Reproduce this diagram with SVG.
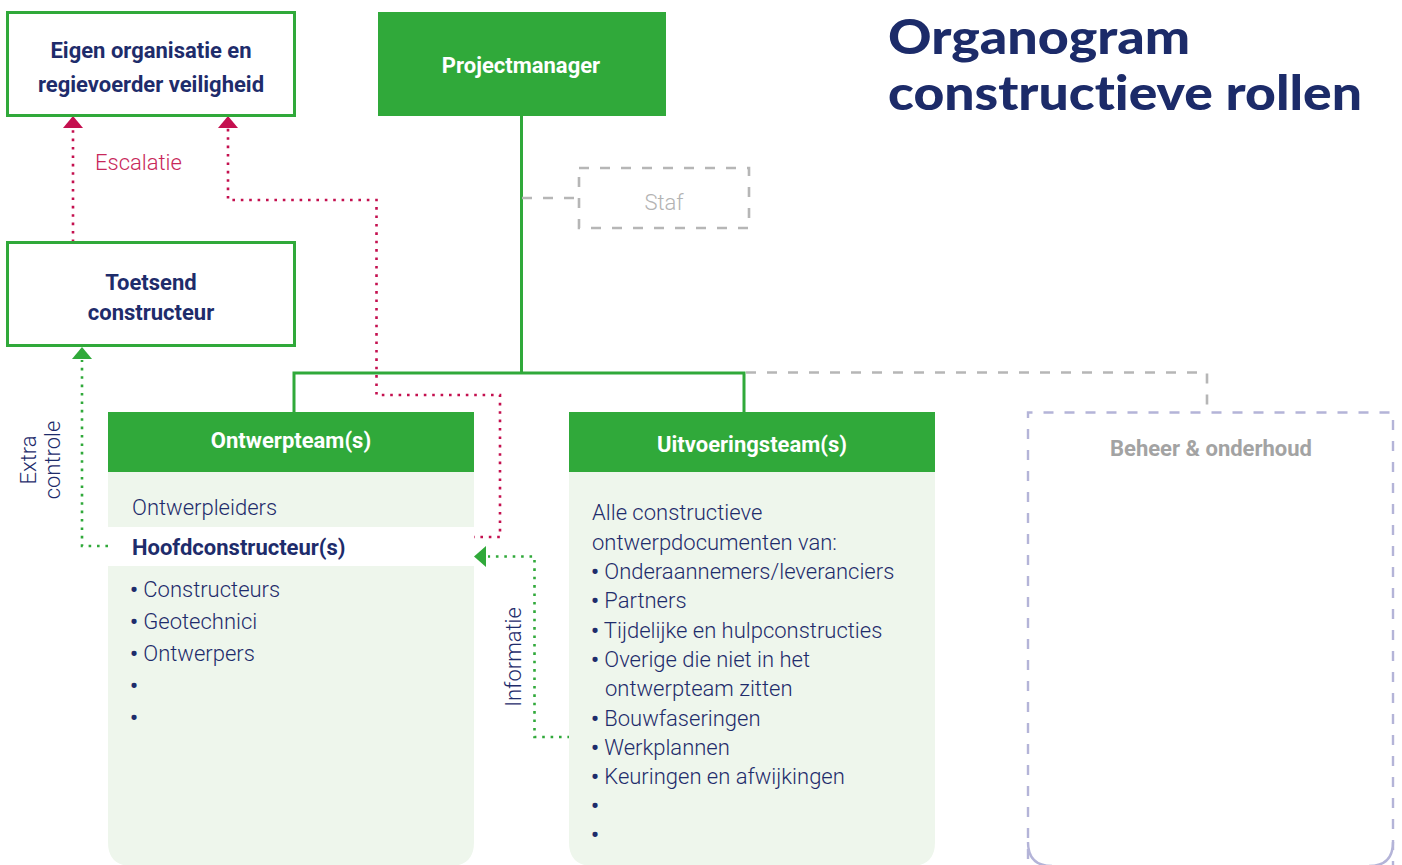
<svg xmlns="http://www.w3.org/2000/svg" width="1402" height="865" viewBox="0 0 1402 865">
<defs>
<style>
.t{font-family:Roboto,"Liberation Sans",sans-serif;fill:#1e2c6b}
.lt{font-weight:300;font-size:22px}
.bd{font-weight:700;font-size:22px}
.b{font-weight:700}
.wh{fill:#ffffff}
.ttl{font-family:Lato,"Open Sans",sans-serif;font-weight:900;font-size:48px;fill:#1c2b69;font-variant-ligatures:none}
.grn{fill:#30a93a}
.body{fill:#eef6ec}
.box{fill:#ffffff;stroke:#30a93a;stroke-width:3}
.conn{fill:none;stroke:#30a93a;stroke-width:3}
.red{fill:none;stroke:#c4104f;stroke-width:2.6;stroke-dasharray:2.6 5.8}
.gdot{fill:none;stroke:#30a93a;stroke-width:2.6;stroke-dasharray:2.6 5.8}
.gdash{fill:none;stroke:#b6b6b6;stroke-width:2.6;stroke-dasharray:10 11}
.ldash{fill:none;stroke:#b4b4d8;stroke-width:2.4;stroke-dasharray:10 11}
</style>
</defs>

<g id="title">
<text class="ttl" x="888" y="54" textLength="302" lengthAdjust="spacingAndGlyphs">Organogram</text>
<text class="ttl" x="888" y="110" textLength="474" lengthAdjust="spacingAndGlyphs">constructieve rollen</text>
</g>

<g id="connectors">
<path class="conn" d="M521.5,116 V373 M294,412 V373 H744 V412"/>
<path class="gdash" d="M522,198 H579"/>
<path class="gdash" d="M746,372.5 H1207 V412"/>
<path class="red" d="M73,242 V128"/>
<path class="red" d="M472,537 H500 V395 H376.5 V200 H228 V128"/>
<polygon points="73,116 63,128 83,128" fill="#c4104f"/>
<polygon points="228,116 218,128 238,128" fill="#c4104f"/>
<path class="gdot" d="M108,546 H82 V360"/>
<polygon points="82,347 72,359 92,359" fill="#30a93a"/>
<path class="gdot" d="M570,737 H534.5 V556.5 H488"/>
<polygon points="474,556.5 486,546 486,567" fill="#30a93a"/>
<text class="t lt" x="95" y="170" style="fill:#c8285a">Escalatie</text>
<text class="t lt" transform="translate(36,460) rotate(-90)" text-anchor="middle">Extra</text>
<text class="t lt" transform="translate(60,460) rotate(-90)" text-anchor="middle">controle</text>
<text class="t lt" transform="translate(521,657) rotate(-90)" text-anchor="middle">Informatie</text>
</g>

<g id="eigen-organisatie">
<rect class="box" x="7.5" y="12.5" width="287" height="103"/>
<text class="t bd" x="151" y="58" text-anchor="middle">Eigen organisatie en</text>
<text class="t bd" x="151" y="92" text-anchor="middle">regievoerder veiligheid</text>
</g>

<g id="projectmanager">
<rect class="grn" x="378" y="12" width="288" height="104"/>
<text class="t bd wh" x="521" y="73" text-anchor="middle">Projectmanager</text>
</g>

<g id="staf">
<rect class="gdash" x="579" y="168" width="170" height="60"/>
<text class="t lt" x="664" y="210" text-anchor="middle" style="fill:#b3b3b3">Staf</text>
</g>

<g id="toetsend-constructeur">
<rect class="box" x="7.5" y="242.5" width="287" height="103"/>
<text class="t bd" x="151" y="290" text-anchor="middle">Toetsend</text>
<text class="t bd" x="151" y="320" text-anchor="middle">constructeur</text>
</g>

<g id="ontwerpteam">
<path class="body" d="M108,472 H474 V842 Q474,866 450,866 H132 Q108,866 108,842 Z"/>
<rect x="108" y="527" width="366" height="39" fill="#ffffff"/>
<rect class="grn" x="108" y="412" width="366" height="60"/>
<text class="t bd wh" x="291" y="448" text-anchor="middle">Ontwerpteam(s)</text>
<text class="t lt" x="132" y="515">Ontwerpleiders</text>
<text class="t bd" x="132" y="555">Hoofdconstructeur(s)</text>
<text class="t lt" x="130" y="597"><tspan class="b">•</tspan> Constructeurs</text>
<text class="t lt" x="130" y="629"><tspan class="b">•</tspan> Geotechnici</text>
<text class="t lt" x="130" y="661"><tspan class="b">•</tspan> Ontwerpers</text>
<text class="t lt b" x="130" y="693">•</text>
<text class="t lt b" x="130" y="725">•</text>
</g>

<g id="uitvoeringsteam">
<path class="body" d="M569,472 H935 V842 Q935,866 911,866 H593 Q569,866 569,842 Z"/>
<rect class="grn" x="569" y="412" width="366" height="60"/>
<text class="t bd wh" x="752" y="452" text-anchor="middle">Uitvoeringsteam(s)</text>
<text class="t lt" x="592" y="520">Alle constructieve</text>
<text class="t lt" x="592" y="550">ontwerpdocumenten van:</text>
<text class="t lt" x="591" y="579"><tspan class="b">•</tspan> Onderaannemers/leveranciers</text>
<text class="t lt" x="591" y="608"><tspan class="b">•</tspan> Partners</text>
<text class="t lt" x="591" y="638"><tspan class="b">•</tspan> Tijdelijke en hulpconstructies</text>
<text class="t lt" x="591" y="667"><tspan class="b">•</tspan> Overige die niet in het</text>
<text class="t lt" x="605" y="696">ontwerpteam zitten</text>
<text class="t lt" x="591" y="726"><tspan class="b">•</tspan> Bouwfaseringen</text>
<text class="t lt" x="591" y="755"><tspan class="b">•</tspan> Werkplannen</text>
<text class="t lt" x="591" y="784"><tspan class="b">•</tspan> Keuringen en afwijkingen</text>
<text class="t lt b" x="591" y="813">•</text>
<text class="t lt b" x="591" y="842">•</text>
</g>

<g id="beheer-onderhoud">
<path class="ldash" d="M1028,880 V412.5 H1393 V880" />
<path class="ldash" d="M1028,842 Q1028,866 1052,866 M1393,842 Q1393,866 1369,866" style="stroke-dasharray:none"/>
<text class="t bd" x="1211" y="456" text-anchor="middle" style="fill:#a3a3a3">Beheer &amp; onderhoud</text>
</g>
</svg>
